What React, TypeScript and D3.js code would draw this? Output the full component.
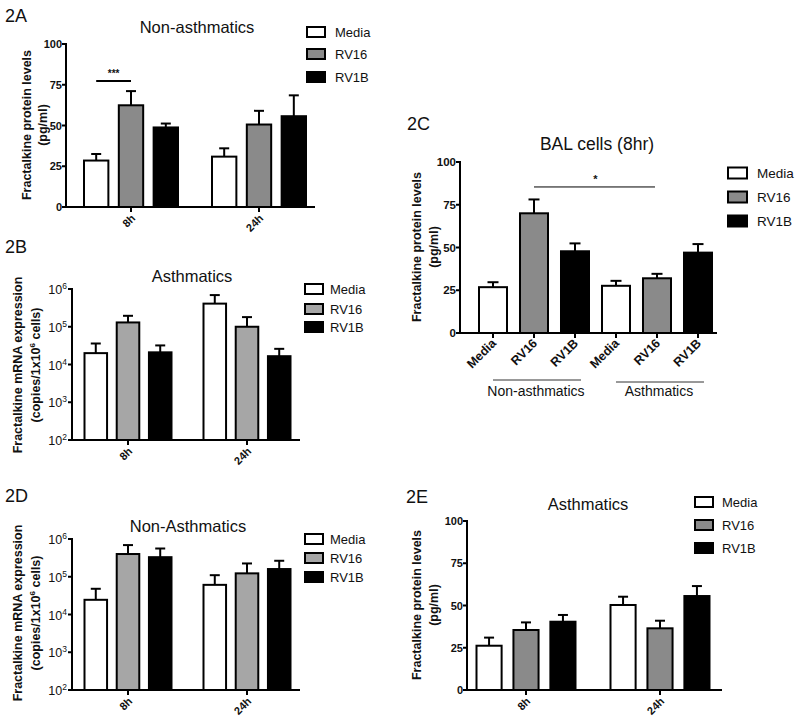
import React from 'react';
import * as d3 from 'd3';

const FONT = "'Liberation Sans', Arial, Helvetica, sans-serif";

// ---- shared categories ----
const seriesNames = ['Media', 'RV16', 'RV1B'];
const timeGroups = ['8h', '24h'];
const proteinTicks = [0, 25, 50, 75, 100];
const mrnaTicks = [1e2, 1e3, 1e4, 1e5, 1e6];

// ---- 2A Non-asthmatics protein (rows: 8h, 24h; cols: Media, RV16, RV1B) ----
const aMean = [[28.5, 62.4, 48.8], [30.9, 50.6, 55.7]];
const aSem = [[4.0, 8.7, 2.4], [5.1, 8.4, 12.8]];

// ---- 2B Asthmatics mRNA ----
const bMean = [[2.0e4, 1.3e5, 2.1e4], [4.1e5, 1.0e5, 1.66e4]];
const bSem = [[1.6e4, 6.5e4, 1.1e4], [2.8e5, 8.0e4, 9.4e3]];

// ---- 2C BAL cells (8hr) ----
const cCategories = ['Media', 'RV16', 'RV1B', 'Media', 'RV16', 'RV1B'];
const cCohorts = ['Non-asthmatics', 'Asthmatics'];
const cMean = [26.8, 70.0, 47.8, 27.6, 32.0, 47.0];
const cSem = [2.9, 8.1, 4.6, 2.9, 2.6, 5.0];

// ---- 2D Non-Asthmatics mRNA ----
const dMean = [[2.45e4, 4.0e5, 3.3e5], [6.1e4, 1.23e5, 1.6e5]];
const dSem = [[2.35e4, 2.9e5, 2.3e5], [4.9e4, 1.02e5, 1.05e5]];

// ---- 2E Asthmatics protein ----
const eMean = [[26.2, 35.5, 40.4], [50.3, 36.5, 55.6]];
const eSem = [[4.8, 4.5, 4.0], [4.9, 4.5, 5.9]];

const PROTEIN_FILLS = ['#ffffff', '#8a8a8a', '#000000'];
const MRNA_FILLS = ['#ffffff', '#a6a6a6', '#000000'];

function YLabel({ x1, x2, cy, line1, line2 }: any) {
  return (
    <g fontFamily={FONT} fontWeight="bold" fontSize={12.5} fill="#111">
      <text transform={`translate(${x1},${cy}) rotate(-90)`} textAnchor="middle" dominantBaseline="middle">{line1}</text>
      <text transform={`translate(${x2},${cy}) rotate(-90)`} textAnchor="middle" dominantBaseline="middle">{line2}</text>
    </g>
  );
}

function Legend({ x, ys, textX, fills, w = 18, h = 10, fs = 13 }: any) {
  return (
    <g fontFamily={FONT} fontSize={fs} fill="#111">
      {seriesNames.map((s, i) => (
        <g key={s}>
          <rect x={x} y={ys[i] - h / 2} width={w} height={h} fill={fills[i]} stroke="#000" strokeWidth={2} />
          <text x={textX} y={ys[i] + fs * 0.36}>{s}</text>
        </g>
      ))}
    </g>
  );
}

function GroupedPanel(p: any) {
  const { mean, sem, log, axisX, yTop, yBot, xEnd, centers, inner, padInner, fills } = p;
  const y = log
    ? d3.scaleLog().domain([1e2, 1e6]).range([yBot, yTop])
    : d3.scaleLinear().domain([0, 100]).range([yBot, yTop]);
  const gx = d3.scalePoint().domain(timeGroups).range(centers);
  const sx = d3.scaleBand().domain(seriesNames).range([-inner / 2, inner / 2]).paddingInner(padInner).paddingOuter(0);
  const bw = sx.bandwidth();
  const ticks = log ? mrnaTicks : proteinTicks;
  const base = log ? 1e2 : 0;
  return (
    <g>
      <text x={p.labelX} y={p.labelY} fontFamily={FONT} fontSize={18} fill="#111">{p.label}</text>
      <text x={p.titleX} y={p.titleY} fontFamily={FONT} fontSize={16.5} textAnchor="middle" fill="#111">{p.title}</text>
      {timeGroups.map((g, gi) =>
        seriesNames.map((s, si) => {
          const cx = (gx(g) as number) + (sx(s) as number) + bw / 2;
          const left = (gx(g) as number) + (sx(s) as number);
          const top = y(mean[gi][si]);
          const et = y(mean[gi][si] + sem[gi][si]);
          return (
            <g key={g + s}>
              <line x1={cx} x2={cx} y1={top} y2={et} stroke="#000" strokeWidth={2} />
              <line x1={cx - 5} x2={cx + 5} y1={et} y2={et} stroke="#000" strokeWidth={2} />
              <rect x={left} y={top} width={bw} height={y(base) - top} fill={fills[si]} stroke="#000" strokeWidth={2} />
            </g>
          );
        })
      )}
      <line x1={axisX} x2={axisX} y1={yTop - 1} y2={yBot + 1} stroke="#000" strokeWidth={2} />
      {ticks.map((t) => (
        <g key={t}>
          <line x1={axisX - 4} x2={axisX} y1={y(t)} y2={y(t)} stroke="#000" strokeWidth={2} />
          {log ? (
            <text x={axisX - 5} y={y(t) + 5} textAnchor="end" fontFamily={FONT} fontSize={12.5} fill="#111">
              10<tspan fontSize={8.5} dy={-5}>{Math.round(Math.log10(t))}</tspan>
            </text>
          ) : (
            <text x={axisX - 4} y={y(t) + 4} textAnchor="end" fontFamily={FONT} fontWeight="bold" fontSize={11} fill="#111">{t}</text>
          )}
        </g>
      ))}
      <line x1={axisX - 1} x2={xEnd} y1={yBot} y2={yBot} stroke="#000" strokeWidth={2} />
      {timeGroups.map((g) => (
        <g key={g}>
          <line x1={gx(g)} x2={gx(g)} y1={yBot} y2={yBot + 5} stroke="#000" strokeWidth={2} />
          <text transform={`translate(${(gx(g) as number) + 5},${yBot + 12}) rotate(-45)`} textAnchor="end"
            fontFamily={FONT} fontWeight="bold" fontSize={11} fill="#111">{g}</text>
        </g>
      ))}
      {p.sig && (() => {
        const [g1, s1] = p.sig.from;
        const [g2, s2] = p.sig.to;
        const x1 = (gx(timeGroups[g1]) as number) + (sx(seriesNames[s1]) as number) + bw / 2;
        const x2 = (gx(timeGroups[g2]) as number) + (sx(seriesNames[s2]) as number) + bw / 2;
        const yy = y(p.sig.value);
        return (
          <g>
            <line x1={x1} x2={x2} y1={yy} y2={yy} stroke="#000" strokeWidth={2} />
            <text x={(x1 + x2) / 2} y={yy - 4} textAnchor="middle" fontFamily={FONT} fontWeight="bold" fontSize={10} fill="#111">{p.sig.label}</text>
          </g>
        );
      })()}
      <YLabel {...p.ylabel} />
      <Legend {...p.legend} fills={fills} />
    </g>
  );
}

function PanelC() {
  const axisX = 460, yTop = 162, yBot = 333, xEnd = 717;
  const y = d3.scaleLinear().domain([0, 100]).range([yBot, yTop]);
  const x = d3.scaleBand<number>().domain(d3.range(cCategories.length)).range([479, 712]).paddingInner(0.317).paddingOuter(0);
  const bw = x.bandwidth();
  const cx = (i: number) => (x(i) as number) + bw / 2;
  const sigY = y(85.4);
  return (
    <g>
      <text x={407} y={130} fontFamily={FONT} fontSize={18} fill="#111">2C</text>
      <text x={597} y={150} fontFamily={FONT} fontSize={17.5} textAnchor="middle" fill="#111">BAL cells (8hr)</text>
      {cMean.map((m, i) => {
        const top = y(m);
        const et = y(m + cSem[i]);
        return (
          <g key={i}>
            <line x1={cx(i)} x2={cx(i)} y1={top} y2={et} stroke="#000" strokeWidth={2} />
            <line x1={cx(i) - 5.5} x2={cx(i) + 5.5} y1={et} y2={et} stroke="#000" strokeWidth={2} />
            <rect x={x(i)} y={top} width={bw} height={y(0) - top} fill={PROTEIN_FILLS[i % 3]} stroke="#000" strokeWidth={2} />
          </g>
        );
      })}
      <line x1={axisX} x2={axisX} y1={yTop - 1} y2={yBot + 1} stroke="#000" strokeWidth={2} />
      {proteinTicks.map((t) => (
        <g key={t}>
          <line x1={axisX - 4} x2={axisX} y1={y(t)} y2={y(t)} stroke="#000" strokeWidth={2} />
          <text x={axisX - 4} y={y(t) + 4} textAnchor="end" fontFamily={FONT} fontWeight="bold" fontSize={11.5} fill="#111">{t}</text>
        </g>
      ))}
      <line x1={axisX - 1} x2={xEnd} y1={yBot} y2={yBot} stroke="#000" strokeWidth={2} />
      {cCategories.map((c, i) => (
        <g key={i}>
          <line x1={cx(i)} x2={cx(i)} y1={yBot} y2={yBot + 5} stroke="#000" strokeWidth={2} />
          <text transform={`translate(${cx(i) + 4},${yBot + 11}) rotate(-45)`} textAnchor="end"
            fontFamily={FONT} fontWeight="bold" fontSize={12.5} fill="#111">{c}</text>
        </g>
      ))}
      {cCohorts.map((co, k) => {
        const x1 = cx(k * 3);
        const x2 = cx(k * 3 + 2) + 6;
        return (
          <g key={co}>
            <line x1={x1} x2={x2} y1={380 + k * 2} y2={380 + k * 2} stroke="#333" strokeWidth={1} />
            <text x={(cx(k * 3) + cx(k * 3 + 2)) / 2 + 2} y={396} textAnchor="middle" fontFamily={FONT} fontSize={14} fill="#111">{co}</text>
          </g>
        );
      })}
      <line x1={cx(1)} x2={cx(4) - 2} y1={sigY} y2={sigY} stroke="#000" strokeWidth={1} />
      <text x={(cx(1) + cx(4)) / 2} y={sigY - 4} textAnchor="middle" fontFamily={FONT} fontWeight="bold" fontSize={11} fill="#111">*</text>
      <YLabel x1={418} x2={435} cy={247} line1="Fractalkine protein levels" line2="(pg/ml)" />
      <Legend x={728} ys={[173, 197, 221]} textX={757} fills={PROTEIN_FILLS} w={19} h={11} fs={13.5} />
    </g>
  );
}

const mrnaLine2 = (
  <tspan>(copies/1x10<tspan fontSize={8} dy={-4}>6</tspan><tspan dy={4}> cells)</tspan></tspan>
);

export default function App() {
  return (
    <svg width={800} height={724} viewBox="0 0 800 724" style={{ position: 'absolute', left: 0, top: 0, background: '#fff' }}>
      <rect width={800} height={724} fill="#fff" />
      <GroupedPanel
        label="2A" labelX={5} labelY={22} title="Non-asthmatics" titleX={197} titleY={33}
        mean={aMean} sem={aSem} log={false} fills={PROTEIN_FILLS}
        axisX={66} yTop={44} yBot={207} xEnd={315} centers={[131, 259]} inner={94} padInner={0.3}
        sig={{ from: [0, 0], to: [0, 1], value: 77.3, label: '***' }}
        ylabel={{ x1: 28, x2: 44, cy: 125, line1: 'Fractalkine protein levels', line2: '(pg/ml)' }}
        legend={{ x: 307, ys: [32, 54, 77], textX: 335 }}
      />
      <GroupedPanel
        label="2B" labelX={5} labelY={253} title="Asthmatics" titleX={192} titleY={282}
        mean={bMean} sem={bSem} log={true} fills={MRNA_FILLS}
        axisX={72} yTop={289} yBot={440} xEnd={300} centers={[128, 247]} inner={87} padInner={0.3}
        ylabel={{ x1: 19, x2: 37, cy: 365, line1: 'Fractalkine mRNA expression', line2: mrnaLine2 }}
        legend={{ x: 305, ys: [289, 309, 327], textX: 330 }}
      />
      <PanelC />
      <GroupedPanel
        label="2D" labelX={5} labelY={502} title="Non-Asthmatics" titleX={188} titleY={532}
        mean={dMean} sem={dSem} log={true} fills={MRNA_FILLS}
        axisX={72} yTop={539} yBot={690} xEnd={300} centers={[128, 247]} inner={87} padInner={0.3}
        ylabel={{ x1: 19, x2: 37, cy: 613, line1: 'Fractalkine mRNA expression', line2: mrnaLine2 }}
        legend={{ x: 305, ys: [539, 558, 577], textX: 330 }}
      />
      <GroupedPanel
        label="2E" labelX={406} labelY={503} title="Asthmatics" titleX={588} titleY={510}
        mean={eMean} sem={eSem} log={false} fills={PROTEIN_FILLS}
        axisX={467} yTop={521} yBot={690} xEnd={722} centers={[526, 660]} inner={99} padInner={0.32}
        ylabel={{ x1: 418, x2: 435, cy: 605, line1: 'Fractalkine protein levels', line2: '(pg/ml)' }}
        legend={{ x: 695, ys: [502, 525, 548], textX: 722 }}
      />
    </svg>
  );
}
